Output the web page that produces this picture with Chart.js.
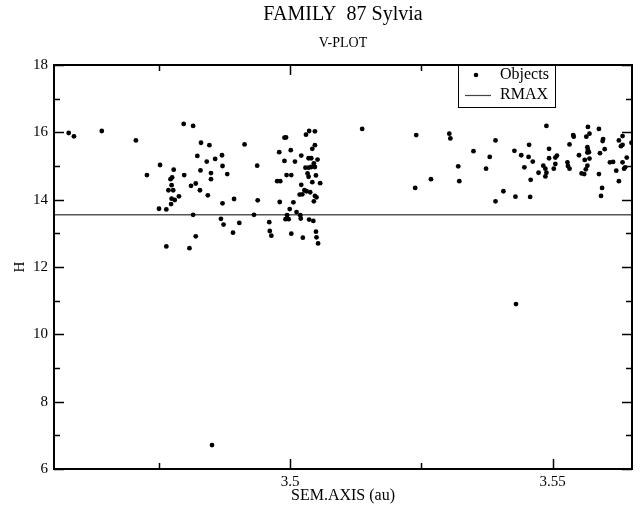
<!DOCTYPE html>
<html>
<head>
<meta charset="utf-8">
<script src="https://cdn.jsdelivr.net/npm/chart.js@4.4.1/dist/chart.umd.min.js"></script>
<style>
  html, body { margin: 0; padding: 0; background: #fff; }
  #wrap { width: 640px; height: 509px; }
</style>
</head>
<body>
<div id="wrap"><canvas id="vplot" width="640" height="509"></canvas></div>
<script>
// semi-major axis (au) and absolute magnitude H of the family members
const semAxis = [
    3.4578, 3.4588, 3.4641, 3.4706, 3.4727, 3.4752, 3.4750, 3.4764, 3.4764, 3.4773,
    3.4774, 3.4768, 3.4777, 3.4774, 3.4772, 3.4775, 3.4778, 3.4780, 3.4788, 3.4797,
    3.4798, 3.4808, 3.4811, 3.4815, 3.4815, 3.4820, 3.4820, 3.4823, 3.4828, 3.4829,
    3.4830, 3.4841, 3.4843, 3.4846, 3.4849, 3.4849, 3.4857, 3.4868, 3.4870, 3.4871,
    3.4871, 3.4873, 3.4880, 3.4891, 3.4893, 3.4903, 3.4851,
    3.4913, 3.4937, 3.4938, 3.4931, 3.4960, 3.4961, 3.4964, 3.4975, 3.4981, 3.4980,
    3.4979, 3.4989, 3.4992, 3.4989, 3.4993, 3.5001, 3.5002, 3.4999, 3.4994, 3.4991,
    3.4997, 3.5002, 3.5006, 3.5009, 3.5012, 3.5019, 3.5020, 3.5021, 3.5021, 3.5018,
    3.5023, 3.5024, 3.5027, 3.5031, 3.5038, 3.5030, 3.5036, 3.5047, 3.5047, 3.5042,
    3.5035, 3.5040, 3.5045, 3.5052, 3.5029, 3.5035, 3.5040, 3.5047, 3.5033, 3.5035,
    3.5049, 3.5042, 3.5057, 3.5047, 3.5050, 3.5045, 3.5036, 3.5044, 3.5049, 3.5050,
    3.5053,
    3.5137, 3.5240, 3.5238, 3.5268, 3.5303, 3.5305, 3.5320, 3.5322, 3.5349, 3.5373,
    3.5380, 3.5391, 3.5391,
    3.5406, 3.5427, 3.5429, 3.5440, 3.5446, 3.5455, 3.5454, 3.5457, 3.5458, 3.5462,
    3.5473, 3.5482, 3.5486, 3.5488, 3.5486, 3.5488, 3.5493, 3.5493, 3.5502, 3.5505,
    3.5505, 3.5508, 3.5528, 3.5529, 3.5532, 3.5532, 3.5539, 3.5540, 3.5550, 3.5555,
    3.5560, 3.5561, 3.5563, 3.5564, 3.5566, 3.5567, 3.5570, 3.5567, 3.5569, 3.5566,
    3.5570, 3.5566, 3.5588, 3.5596, 3.5595, 3.5599, 3.5590, 3.5588, 3.5594, 3.5592,
    3.5609, 3.5615, 3.5621, 3.5626, 3.5630, 3.5633, 3.5633, 3.5633, 3.5636, 3.5641,
    3.5626, 3.5650, 3.5638, 3.5430
];
const magH = [
    15.98, 15.88, 16.04, 15.76, 14.73, 15.03, 13.73, 13.71, 12.61, 13.87,
    14.03, 14.28, 14.28, 14.43, 14.61, 14.66, 14.89, 13.99, 14.10, 16.25,
    14.73, 12.56, 14.41, 16.19, 13.55, 14.48, 12.91, 15.30, 14.28, 14.87,
    15.69, 15.13, 14.13, 15.62, 14.79, 14.61, 15.21, 13.43, 15.32, 15.00,
    13.89, 13.26, 14.76, 13.02, 14.02, 13.31, 6.71,
    15.64, 15.01, 13.98, 13.55, 13.33, 13.07, 12.93, 14.55, 14.55, 13.93,
    15.41, 15.84, 15.85, 15.15, 14.73, 15.47, 14.73, 13.72, 13.54, 13.42,
    13.42, 12.99, 13.92, 15.13, 13.63, 13.54, 13.44, 15.31, 14.44, 14.15,
    14.16, 12.87, 14.28, 14.25, 14.22, 15.93, 16.04, 16.03, 15.62, 15.51,
    15.23, 15.23, 15.08, 15.19, 14.95, 14.95, 14.97, 14.97, 14.78, 14.68,
    14.72, 14.52, 14.49, 14.11, 14.07, 13.95, 13.41, 13.37, 13.05, 12.88,
    12.70,
    16.10, 15.92, 14.35, 14.61, 15.96, 15.82, 14.99, 14.55, 15.44, 14.92,
    15.27, 15.76, 13.95,
    14.25, 15.45, 14.09, 15.32, 14.96, 15.63, 15.27, 14.08, 14.59, 15.13,
    14.80, 15.01, 14.92, 14.80, 14.69, 16.19, 15.51, 15.23, 14.92, 15.06,
    15.25, 15.31, 15.11, 15.00, 14.92, 15.64, 15.92, 15.87, 15.32, 14.78,
    14.76, 15.18, 14.90, 15.87, 15.56, 16.16, 15.96, 15.48, 15.41, 15.40,
    15.22, 15.01, 16.10, 15.80, 15.74, 15.50, 15.38, 14.76, 14.35, 14.11,
    15.11, 15.12, 14.86, 15.76, 15.59, 15.63, 15.89, 15.11, 14.92, 15.25,
    14.55, 15.69, 14.96, 10.90
];

const rmaxH = 13.55;
const xRange = [3.455, 3.5651];
const yRange = [6, 18];
const xMajorTicks = [3.5, 3.55];
const xMinorTicks = [3.475, 3.525];
const yMajorTicks = [6, 8, 10, 12, 14, 16, 18];
const yMinorTicks = [7, 9, 11, 13, 15, 17];

const chartTitle = 'FAMILY  87 Sylvia';
const chartSubtitle = 'V-PLOT';
const xTitle = 'SEM.AXIS (au)';
const yTitle = 'H';

const serif = "'Liberation Serif', 'DejaVu Serif', serif";

const objects = semAxis.map((a, i) => ({ x: a, y: magH[i] }));
const rmaxLine = [{ x: xRange[0], y: rmaxH }, { x: xRange[1], y: rmaxH }];

// frame, inward ticks on all four sides, titles and the boxed legend
const decorations = {
    id: 'decorations',
    afterDraw(chart) {
        const ctx = chart.ctx;
        const area = chart.chartArea;
        const xs = chart.scales.x;
        const ys = chart.scales.y;

        ctx.save();
        ctx.strokeStyle = '#000';
        ctx.lineWidth = 2;
        ctx.strokeRect(area.left, area.top, area.right - area.left, area.bottom - area.top);

        ctx.lineWidth = 1.5;
        ctx.beginPath();
        const xTick = (v, len) => {
            const px = Math.round(xs.getPixelForValue(v)) + 0.5;
            ctx.moveTo(px, area.bottom); ctx.lineTo(px, area.bottom - len);
            ctx.moveTo(px, area.top); ctx.lineTo(px, area.top + len);
        };
        const yTick = (v, len) => {
            const py = Math.round(ys.getPixelForValue(v)) + 0.5;
            ctx.moveTo(area.left, py); ctx.lineTo(area.left + len, py);
            ctx.moveTo(area.right, py); ctx.lineTo(area.right - len, py);
        };
        xMajorTicks.forEach(v => xTick(v, 10));
        xMinorTicks.forEach(v => xTick(v, 6));
        yMajorTicks.forEach(v => yTick(v, 10));
        yMinorTicks.forEach(v => yTick(v, 6));
        ctx.stroke();

        // titles
        const cx = (area.left + area.right) / 2;
        ctx.fillStyle = '#000';
        ctx.textAlign = 'center';
        ctx.textBaseline = 'middle';
        ctx.font = '20px ' + serif;
        ctx.fillText(chartTitle, cx, 15);
        ctx.font = '14px ' + serif;
        ctx.fillText(chartSubtitle, cx, 43);
        ctx.font = '16px ' + serif;
        ctx.fillText(xTitle, cx, 496);
        ctx.save();
        ctx.translate(20, (area.top + area.bottom) / 2);
        ctx.rotate(-Math.PI / 2);
        ctx.font = '15px ' + serif;
        ctx.fillText(yTitle, 0, 0);
        ctx.restore();

        // legend box
        const lx = 458, ly = area.top, lw = 97, lh = 42;
        ctx.fillStyle = '#fff';
        ctx.fillRect(lx, ly, lw, lh);
        ctx.strokeStyle = '#000';
        ctx.lineWidth = 1;
        ctx.strokeRect(lx + 0.5, ly + 0.5, lw, lh);
        ctx.fillStyle = '#000';
        ctx.beginPath();
        ctx.arc(476, ly + 10, 2.3, 0, Math.PI * 2);
        ctx.fill();
        ctx.strokeStyle = '#444';
        ctx.lineWidth = 1.2;
        ctx.beginPath();
        ctx.moveTo(465, ly + 30.5); ctx.lineTo(491, ly + 30.5);
        ctx.stroke();
        ctx.fillStyle = '#000';
        ctx.textAlign = 'left';
        ctx.font = '16px ' + serif;
        ctx.fillText(chart.data.datasets[0].label, 500, ly + 10);
        ctx.fillText(chart.data.datasets[1].label, 500, ly + 30);
        ctx.restore();
    }
};

const ctx = document.getElementById('vplot').getContext('2d');
new Chart(ctx, {
    type: 'scatter',
    data: {
        datasets: [{
            label: 'Objects',
            data: objects,
            pointRadius: 2.4,
            pointBorderWidth: 0,
            pointBackgroundColor: '#000',
            borderColor: '#000',
            order: 0
        }, {
            type: 'line',
            label: 'RMAX',
            data: rmaxLine,
            borderColor: '#555',
            borderWidth: 1.5,
            pointRadius: 0,
            fill: false,
            order: 1
        }]
    },
    options: {
        responsive: false,
        animation: false,
        events: [],
        layout: { padding: { top: 65, right: 8, bottom: 0, left: 0 } },
        plugins: {
            legend: { display: false },
            title: { display: false },
            tooltip: { enabled: false }
        },
        scales: {
            x: {
                type: 'linear',
                min: xRange[0],
                max: xRange[1],
                grid: { display: false, drawTicks: false },
                border: { display: false },
                afterBuildTicks: scale => {
                    scale.ticks = xMajorTicks.map(v => ({ value: v }));
                },
                afterFit: scale => { scale.height = 40; },
                ticks: {
                    padding: 4,
                    color: '#000',
                    font: { family: serif, size: 15 },
                    maxRotation: 0,
                    callback: v => String(v)
                }
            },
            y: {
                min: yRange[0],
                max: yRange[1],
                grid: { display: false, drawTicks: false },
                border: { display: false },
                afterBuildTicks: scale => {
                    scale.ticks = yMajorTicks.map(v => ({ value: v }));
                },
                afterFit: scale => { scale.width = 54; },
                ticks: {
                    padding: 6,
                    color: '#000',
                    font: { family: serif, size: 15 }
                }
            }
        }
    },
    plugins: [decorations]
});
</script>
</body>
</html>
